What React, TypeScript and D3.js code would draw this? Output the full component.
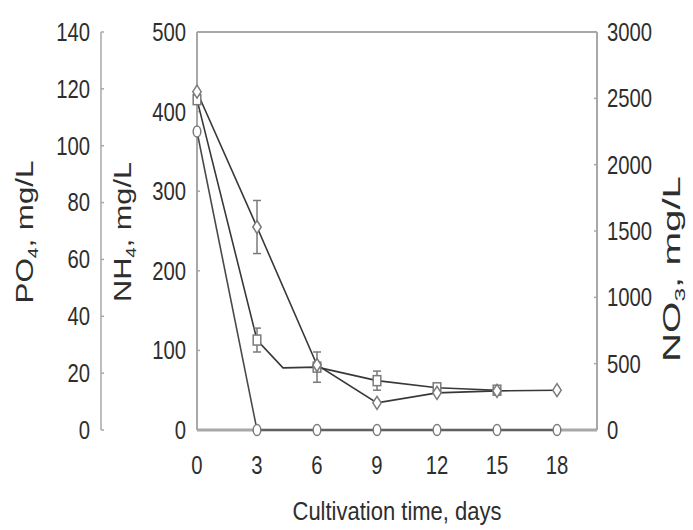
import React from "react";
import * as d3 from "d3";

// ---- data ----
const xTicks = [0, 3, 6, 9, 12, 15, 18];
const po4Ticks = [0, 20, 40, 60, 80, 100, 120, 140];
const nh4Ticks = [0, 100, 200, 300, 400, 500];
const no3Ticks = [0, 500, 1000, 1500, 2000, 2500, 3000];

// NO3 series (diamonds), right axis
const no3Days = [0, 3, 6, 9, 12, 15, 18];
const no3Values = [2550, 1530, 490, 205, 280, 295, 300];
const no3Err = [0, 200, 0, 0, 0, 0, 0];

// NH4 series (squares), inner left axis
const nh4Days = [0, 3, 4.3, 6, 9, 12, 15];
const nh4Values = [415, 113, 78, 79, 62, 53, 50];
const nh4Err = [0, 15, 0, 19, 12, 0, 0];
const nh4Marked = [true, true, false, true, true, true, true];

// PO4 series (circles), outer left axis
const po4Days = [0, 3, 6, 9, 12, 15, 18];
const po4Values = [105, 0, 0, 0, 0, 0, 0];

const W = 693;
const H = 530;
const plotL = 197;
const plotR = 597;
const plotT = 32;
const plotB = 430;
const po4AxisX = 101;

const FONT = "'Liberation Sans', Arial, sans-serif";
const TXT = "#2e2e2e";
const AXIS = "#a8a8a8";
const LINE = "#383838";
const MK = "#7a7a7a";

export default function App() {
  const x = d3.scaleLinear().domain([0, 20]).range([plotL, plotR]);
  const yPO4 = d3.scaleLinear().domain([0, 140]).range([plotB, plotT]);
  const yNH4 = d3.scaleLinear().domain([0, 500]).range([plotB, plotT]);
  const yNO3 = d3.scaleLinear().domain([0, 3000]).range([plotB, plotT]);

  const mk = (days: number[], vals: number[], ys: d3.ScaleLinear<number, number>) =>
    days.map((d, i) => [x(d), ys(vals[i])] as [number, number]);

  const lineGen = d3.line();
  const no3Pts = mk(no3Days, no3Values, yNO3);
  const nh4Pts = mk(nh4Days, nh4Values, yNH4);
  const po4Pts = mk(po4Days, po4Values, yPO4);

  const tickLabel = (
    key: string,
    tx: number,
    ty: number,
    text: string,
    anchor: "start" | "middle" | "end"
  ) => (
    <text
      key={key}
      transform={`translate(${tx},${ty}) scale(0.78,1)`}
      textAnchor={anchor}
      dominantBaseline="central"
      fontFamily={FONT}
      fontSize={26}
      fill={TXT}
    >
      {text}
    </text>
  );

  const errBar = (key: string, cx: number, yLo: number, yHi: number) => (
    <g key={key} stroke={MK} strokeWidth={1.5}>
      <line x1={cx} x2={cx} y1={yLo} y2={yHi} />
      <line x1={cx - 4} x2={cx + 4} y1={yLo} y2={yLo} />
      <line x1={cx - 4} x2={cx + 4} y1={yHi} y2={yHi} />
    </g>
  );

  const yTitle = (
    key: string,
    bx: number,
    cy: number,
    main: string,
    sub: string,
    rest: string,
    len: number
  ) => (
    <text
      key={key}
      transform={`translate(${bx},${cy}) rotate(-90)`}
      textAnchor="middle"
      fontFamily={FONT}
      fontSize={23}
      fill={TXT}
      textLength={len}
      lengthAdjust="spacingAndGlyphs"
    >
      {main}
      <tspan fontSize={14} dy={5}>
        {sub}
      </tspan>
      <tspan dy={-5}>{rest}</tspan>
    </text>
  );

  return (
    <svg
      width={W}
      height={H}
      style={{ position: "absolute", left: 0, top: 0, background: "#fff" }}
    >
      <rect x={0} y={0} width={W} height={H} fill="#fff" />

      {/* PO4 outer axis */}
      <line x1={po4AxisX} x2={po4AxisX} y1={plotT} y2={plotB} stroke={AXIS} strokeWidth={1.5} />
      {po4Ticks.map((t) => (
        <line key={"pt" + t} x1={po4AxisX} x2={po4AxisX + 3} y1={yPO4(t)} y2={yPO4(t)} stroke={AXIS} strokeWidth={1.5} />
      ))}
      {po4Ticks.map((t) => tickLabel("pl" + t, 90, yPO4(t), String(t), "end"))}

      {/* NH4 axis */}
      <line x1={plotL} x2={plotL} y1={plotT} y2={plotB} stroke={AXIS} strokeWidth={2} />
      {nh4Ticks.map((t) => (
        <line key={"nt" + t} x1={plotL} x2={plotL + 3} y1={yNH4(t)} y2={yNH4(t)} stroke={AXIS} strokeWidth={1.5} />
      ))}
      {nh4Ticks.map((t) => tickLabel("nl" + t, 186, yNH4(t), String(t), "end"))}

      {/* frame top + right (NO3) axis */}
      <line x1={plotL} x2={plotR} y1={plotT} y2={plotT} stroke={AXIS} strokeWidth={2} />
      <line x1={plotR} x2={plotR} y1={plotT} y2={plotB} stroke={AXIS} strokeWidth={2} />
      {no3Ticks.map((t) => (
        <line key={"ot" + t} x1={plotR - 3} x2={plotR} y1={yNO3(t)} y2={yNO3(t)} stroke={AXIS} strokeWidth={1.5} />
      ))}
      {no3Ticks.map((t) => tickLabel("ol" + t, 607, yNO3(t), String(t), "start"))}

      {/* x axis */}
      <line x1={plotL} x2={plotR} y1={plotB} y2={plotB} stroke={AXIS} strokeWidth={3} />
      {xTicks.map((t) => tickLabel("xl" + t, x(t), 465, String(t), "middle"))}

      {/* titles */}
      <text
        x={397}
        y={520}
        textAnchor="middle"
        fontFamily={FONT}
        fontSize={25}
        fill={TXT}
        textLength={209}
        lengthAdjust="spacingAndGlyphs"
      >
        Cultivation time, days
      </text>
      {yTitle("tp", 33, 232, "PO", "4", ", mg/L", 143)}
      {yTitle("tn", 131, 232, "NH", "4", ", mg/L", 140)}
      {yTitle("to", 680, 269, "NO", "3", ", mg/L", 186)}

      {/* lines */}
      <path d={lineGen(po4Pts) || ""} fill="none" stroke="#4a4a4a" strokeWidth={1.6} />
      <path d={lineGen(nh4Pts) || ""} fill="none" stroke={LINE} strokeWidth={1.6} />
      <path d={lineGen(no3Pts) || ""} fill="none" stroke={LINE} strokeWidth={1.6} />

      {/* error bars */}
      {nh4Days.map((d, i) =>
        nh4Err[i] > 0
          ? errBar("ne" + i, x(d), yNH4(nh4Values[i] - nh4Err[i]), yNH4(nh4Values[i] + nh4Err[i]))
          : null
      )}
      {no3Days.map((d, i) =>
        no3Err[i] > 0
          ? errBar("oe" + i, x(d), yNO3(no3Values[i] - no3Err[i]), yNO3(no3Values[i] + no3Err[i]))
          : null
      )}

      {/* markers */}
      {po4Pts.map(([px, py], i) => (
        <ellipse key={"pm" + i} cx={px} cy={py} rx={3.8} ry={5.5} fill="#fff" stroke={MK} strokeWidth={1.5} />
      ))}
      {nh4Pts.map(([px, py], i) =>
        nh4Marked[i] ? (
          <rect key={"nm" + i} x={px - 3.8} y={py - 5} width={7.6} height={10} fill="#fff" stroke={MK} strokeWidth={1.5} />
        ) : null
      )}
      {no3Pts.map(([px, py], i) => (
        <path
          key={"om" + i}
          d={`M${px},${py - 6.5} L${px + 4.2},${py} L${px},${py + 6.5} L${px - 4.2},${py} Z`}
          fill="#fff"
          stroke={MK}
          strokeWidth={1.5}
        />
      ))}
    </svg>
  );
}
